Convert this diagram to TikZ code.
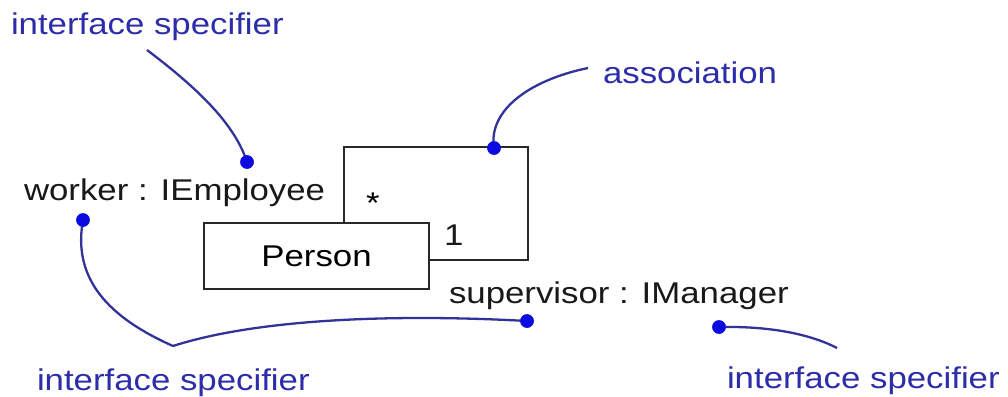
\documentclass[tikz,border=0pt]{standalone}
\usepackage{fontspec}
\setmainfont{Liberation Sans}[FakeStretch=1.16]
\definecolor{lblblue}{RGB}{45,45,170}
\definecolor{leadblue}{RGB}{50,50,155}
\definecolor{dotblue}{RGB}{10,10,225}
\definecolor{umlgray}{RGB}{40,40,40}
\begin{document}
\begin{tikzpicture}[x=1pt,y={(0pt,-1pt)},
  every node/.style={inner sep=0pt,outer sep=0pt,font=\fontsize{30pt}{36pt}\selectfont},
  lbl/.style={anchor=base west,text=lblblue},
  txt/.style={anchor=base west,text=black!90},
  umlbox/.style={draw=umlgray,line width=2.5pt,fill=white,minimum width=225pt,minimum height=66pt},
  umlline/.style={draw=umlgray,line width=2.5pt},
  leader/.style={draw=leadblue,line width=2.3pt},
  dot/.style={circle,fill=dotblue,minimum size=13.5pt,inner sep=0pt}]
\useasboundingbox (0,0) rectangle (1008,396);
% class and self association
\node[umlbox] (person) at (316.5,256) {Person};
\coordinate (loopcorner) at (528,147);
\draw[umlline] ([xshift=140pt]person.north west) |- (loopcorner) |- ([yshift=29pt]person.south east);
\node[anchor=base] (star) at (373,213) {*};
\node[txt] (one) at (444,245) {1};
% role names
\node[txt] (worker) at (24,200) {worker : IEmployee};
\node[txt] (super) at (449,303) {supervisor : IManager};
% notes
\node[lbl] (spec1) at (11,35) {interface specifier};
\node[lbl] (assoc) at (603,83) {association};
\node[lbl] (spec2) at (37,390) {interface specifier};
\node[lbl] (spec3) at (727,388) {interface specifier};
% dots
\node[dot] (d1) at (247,162) {};
\node[dot] (d2) at (494,148) {};
\node[dot] (d3) at (83,220) {};
\node[dot] (d4) at (527,321) {};
\node[dot] (d5) at (719,327) {};
% leader ends
\coordinate (t1) at (147,50);
\coordinate (t2) at (588,68);
\coordinate (v) at (173,346);
\coordinate (t5) at (837,348);
% leaders
\draw[leader] (t1) .. controls (200,90) and (235,125) .. (d1.center);
\draw[leader] (t2) .. controls (530,80) and (488,110) .. (d2.center);
\draw[leader] (d3.center) .. controls (72,280) and (110,318) .. (v);
\draw[leader] (v) .. controls (260,318) and (400,314) .. (d4.center);
\draw[leader] (d5.center) .. controls (770,326) and (810,334) .. (t5);
% redraw dots on top
\node[dot] at (d1) {};
\node[dot] at (d2) {};
\node[dot] at (d3) {};
\node[dot] at (d4) {};
\node[dot] at (d5) {};
\end{tikzpicture}
\end{document}
